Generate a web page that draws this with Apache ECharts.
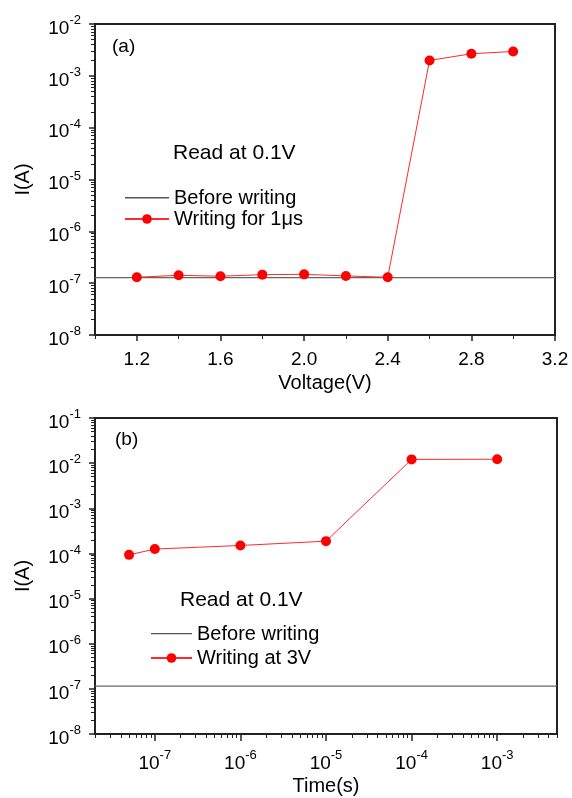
<!DOCTYPE html>
<html>
<head>
<meta charset="utf-8">
<script src="https://cdn.jsdelivr.net/npm/echarts@6/dist/echarts.min.js"></script>
<style>
html,body{margin:0;padding:0;background:#fff;}
#chart{width:572px;height:798px;}
</style>
</head>
<body>
<div id="chart"></div>
<script>
// ---- Panel (a) data ----
const voltage = [1.2, 1.4, 1.6, 1.8, 2.0, 2.2, 2.4, 2.6, 2.8, 3.0];
const currentWritingA = [1.30e-7, 1.42e-7, 1.36e-7, 1.46e-7, 1.48e-7, 1.38e-7, 1.30e-7, 1.98e-3, 2.67e-3, 2.95e-3];
const currentBeforeA = 1.28e-7;
const voltageRange = [1.0, 3.2];
const voltageTickLabels = [1.2, 1.6, 2.0, 2.4, 2.8, 3.2];
const voltageMinorTicks = [1.0, 1.4, 1.8, 2.2, 2.6, 3.0];
const currentRangeA = [1e-8, 1e-2];
const currentTickLabelsA = [1e-8, 1e-7, 1e-6, 1e-5, 1e-4, 1e-3, 1e-2];

// ---- Panel (b) data ----
const timeS = [5e-8, 1e-7, 1e-6, 1e-5, 1e-4, 1e-3];
const currentWritingB = [9.3e-5, 1.25e-4, 1.5e-4, 1.87e-4, 1.21e-2, 1.22e-2];
const currentBeforeB = 1.15e-7;
const timeRange = [2e-8, 5e-3];
const timeTickLabels = [1e-7, 1e-6, 1e-5, 1e-4, 1e-3];
const currentRangeB = [1e-8, 1e-1];
const currentTickLabelsB = [1e-8, 1e-7, 1e-6, 1e-5, 1e-4, 1e-3, 1e-2, 1e-1];

const FONT = 'Arial, "Liberation Sans", sans-serif';
const AXIS_COLOR = '#222';
// plain line legend icon (no marker)
const LINE_ICON = 'path://M0,0 L0.01,0 L0.01,0.01 Z M0,5 L44,5 L44,6.4 L0,6.4 Z M0,12 L0.01,12 L0.01,11.99 Z';

function logMinorTicks(lo, hi) {
  const out = [];
  const n0 = Math.floor(Math.log10(lo)), n1 = Math.ceil(Math.log10(hi));
  for (let n = n0; n <= n1; n++) {
    for (let k = 2; k <= 9; k++) {
      const v = k * Math.pow(10, n);
      if (v >= lo * 0.999 && v <= hi * 1.001) out.push(v);
    }
  }
  return out;
}
function supFmt(v) {
  const e = Math.round(Math.log10(v));
  return '{b|10}{s|' + e + '}';
}
const supRich = {
  b: { fontSize: 19, fontFamily: FONT, color: '#000', lineHeight: 24, verticalAlign: 'bottom' },
  s: { fontSize: 13, fontFamily: FONT, color: '#000', verticalAlign: 'top' }
};

function mainValueAxis(grid, range, labels, opts) {
  return Object.assign({
    gridIndex: grid, min: range[0], max: range[1],
    axisLine: { show: true, onZero: false, lineStyle: { color: AXIS_COLOR, width: 2 } },
    axisTick: { show: true, inside: false, length: 6, customValues: labels, lineStyle: { color: AXIS_COLOR, width: 1.5 } },
    axisLabel: { customValues: labels, color: '#000', fontFamily: FONT },
    splitLine: { show: false },
    minorTick: { show: false },
    nameTextStyle: { color: '#000', fontFamily: FONT, fontSize: 20 },
    nameLocation: 'middle'
  }, opts);
}
function minorAxis(grid, type, range, ticks, pos) {
  return {
    type: type, gridIndex: grid, min: range[0], max: range[1], position: pos,
    axisLine: { show: false },
    axisLabel: { show: false },
    axisTick: { show: true, inside: false, length: 4, customValues: ticks, lineStyle: { color: AXIS_COLOR, width: 1 } },
    splitLine: { show: false }
  };
}

const chart = echarts.init(document.getElementById('chart'), null, { renderer: 'canvas' });
const option = {
  animation: false,
  backgroundColor: '#fff',
  textStyle: { fontFamily: FONT },
  grid: [
    { left: 95, right: 17, top: 24, height: 311, show: true, borderColor: AXIS_COLOR, borderWidth: 2, backgroundColor: 'transparent' },
    { left: 95, right: 15, top: 418, height: 316, show: true, borderColor: AXIS_COLOR, borderWidth: 2, backgroundColor: 'transparent' }
  ],
  xAxis: [
    mainValueAxis(0, voltageRange, voltageTickLabels, {
      type: 'value', position: 'bottom', name: 'Voltage(V)', nameGap: 38,
      axisLabel: { customValues: voltageTickLabels, color: '#000', fontFamily: FONT, fontSize: 19, margin: 15,
        formatter: v => v.toFixed(1) }
    }),
    minorAxis(0, 'value', voltageRange, voltageMinorTicks, 'bottom'),
    mainValueAxis(1, timeRange, timeTickLabels, {
      type: 'log', position: 'bottom', name: 'Time(s)', nameGap: 42,
      axisTick: { show: true, inside: false, length: 7, customValues: timeTickLabels, lineStyle: { color: AXIS_COLOR, width: 1.5 } },
      axisLabel: { customValues: timeTickLabels, formatter: supFmt, rich: supRich, margin: 15 }
    }),
    minorAxis(1, 'log', timeRange, logMinorTicks(timeRange[0], timeRange[1]), 'bottom')
  ],
  yAxis: [
    mainValueAxis(0, currentRangeA, currentTickLabelsA, {
      type: 'log', position: 'left', name: 'I(A)', nameGap: 62,
      axisLabel: { customValues: currentTickLabelsA, formatter: supFmt, rich: supRich, margin: 14, padding: [4, 0, 0, 0] }
    }),
    minorAxis(0, 'log', currentRangeA, logMinorTicks(currentRangeA[0], currentRangeA[1]), 'left'),
    mainValueAxis(1, currentRangeB, currentTickLabelsB, {
      type: 'log', position: 'left', name: 'I(A)', nameGap: 62,
      axisLabel: { customValues: currentTickLabelsB, formatter: supFmt, rich: supRich, margin: 14, padding: [4, 0, 0, 0] }
    }),
    minorAxis(1, 'log', currentRangeB, logMinorTicks(currentRangeB[0], currentRangeB[1]), 'left')
  ],
  legend: [
    {
      orient: 'vertical', left: 124, top: 188, padding: 0, itemGap: 1,
      itemWidth: 44, itemHeight: 12,
      textStyle: { fontSize: 20, color: '#000', fontFamily: FONT, lineHeight: 16 },
      data: [{ name: 'Before writing', icon: LINE_ICON }, 'Writing for 1\u03bcs']
    },
    {
      orient: 'vertical', left: 150, top: 624, padding: 0, itemGap: 4,
      itemWidth: 41, itemHeight: 12,
      textStyle: { fontSize: 20, color: '#000', fontFamily: FONT, lineHeight: 16 },
      data: [{ name: 'Before writing', icon: LINE_ICON }, 'Writing at 3V']
    }
  ],
  graphic: [
    { type: 'text', x: 112, y: 47, style: { text: '(a)', fontSize: 19, fontFamily: FONT, fill: '#000', verticalAlign: 'middle' } },
    { type: 'text', x: 173, y: 153, style: { text: 'Read at 0.1V', fontSize: 21, fontFamily: FONT, fill: '#000', verticalAlign: 'middle' } },
    { type: 'text', x: 115, y: 440, style: { text: '(b)', fontSize: 19, fontFamily: FONT, fill: '#000', verticalAlign: 'middle' } },
    { type: 'text', x: 180, y: 600, style: { text: 'Read at 0.1V', fontSize: 21, fontFamily: FONT, fill: '#000', verticalAlign: 'middle' } }
  ],
  series: [
    {
      name: 'Before writing', type: 'line', xAxisIndex: 0, yAxisIndex: 0,
      data: [[voltageRange[0], currentBeforeA], [voltageRange[1], currentBeforeA]],
      symbol: 'none', showSymbol: false,
      lineStyle: { color: '#666', width: 1.2 }, itemStyle: { color: '#555' }, z: 2
    },
    {
      name: 'Writing for 1\u03bcs', type: 'line', xAxisIndex: 0, yAxisIndex: 0,
      data: voltage.map((v, i) => [v, currentWritingA[i]]),
      symbol: 'circle', symbolSize: 10, showAllSymbol: true,
      lineStyle: { color: '#ff2a2a', width: 1 }, itemStyle: { color: '#ff0000' }, z: 3
    },
    {
      name: 'Before writing', type: 'line', xAxisIndex: 2, yAxisIndex: 2,
      data: [[timeRange[0], currentBeforeB], [timeRange[1], currentBeforeB]],
      symbol: 'none', showSymbol: false,
      lineStyle: { color: '#666', width: 1.2 }, itemStyle: { color: '#555' }, z: 2
    },
    {
      name: 'Writing at 3V', type: 'line', xAxisIndex: 2, yAxisIndex: 2,
      data: timeS.map((t, i) => [t, currentWritingB[i]]),
      symbol: 'circle', symbolSize: 10, showAllSymbol: true,
      lineStyle: { color: '#ff2a2a', width: 1 }, itemStyle: { color: '#ff0000' }, z: 3
    }
  ]
};
chart.setOption(option);
</script>
</body>
</html>
